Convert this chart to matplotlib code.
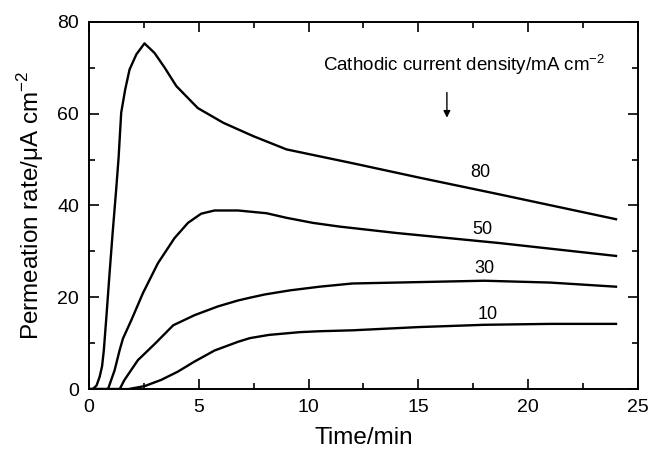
import matplotlib.pyplot as plt
from matplotlib.ticker import MultipleLocator

plt.rcParams['font.family'] = ['Liberation Sans', 'DejaVu Sans']
plt.rcParams['mathtext.fontset'] = 'custom'
plt.rcParams['mathtext.rm'] = 'Liberation Sans'

# permeation transients (time in min, rate in uA cm-2)
t_80 = [0, 0.18, 0.35, 0.49, 0.6, 0.68, 0.8, 0.94, 1.08, 1.24, 1.35, 1.47,
        1.65, 1.85, 2.16, 2.53, 2.99, 3.45, 3.98, 4.51, 4.96, 6.12, 7.48,
        9.0, 12, 15, 18.7, 24]
j_80 = [0, 0, 0.8, 2.7, 5, 8.5, 16, 25.2, 34, 43.4, 50.3, 60.2,
        65.2, 69.6, 72.9, 75.3, 73.2, 70, 66, 63.4, 61.2, 58, 55.1,
        52.2, 49.2, 46.1, 42.4, 37]

t_50 = [0, 0.87, 1.17, 1.4, 1.55, 1.93, 2.46, 3.14, 3.9, 4.51, 5.11, 5.72,
        6.79, 8.09, 9.0, 10.2, 11.4, 14, 18.7, 24]
j_50 = [0, 0, 4.1, 8.5, 11, 15, 20.9, 27.4, 32.9, 36.2, 38.2, 38.9,
        38.9, 38.3, 37.3, 36.2, 35.4, 34, 31.8, 29]

t_30 = [0, 1.4, 1.62, 2.23, 2.99, 3.84, 4.81, 5.87, 6.79, 7.33, 8.0, 9.15,
        10.5, 12, 15, 18, 21, 24]
j_30 = [0, 0, 2, 6.3, 9.8, 13.9, 16.1, 18, 19.3, 19.9, 20.6, 21.5,
        22.3, 23, 23.3, 23.6, 23.2, 22.3]

t_10 = [0, 1.8, 2.54, 3.29, 4.05, 4.81, 5.72, 6.79, 7.33, 8.2, 9.6, 10.5,
        12, 15, 18, 21, 24]
j_10 = [0, 0, 0.65, 2, 3.8, 6, 8.4, 10.3, 11.1, 11.8, 12.4, 12.6,
        12.8, 13.5, 14, 14.2, 14.2]

curves = [(t_80, j_80, '80', 17.8, 47.1),
          (t_50, j_50, '50', 17.9, 34.7),
          (t_30, j_30, '30', 18.0, 26.3),
          (t_10, j_10, '10', 18.15, 16.2)]

fig = plt.figure(figsize=(6.49, 4.54), dpi=100)
ax = fig.add_axes([0.137, 0.143, 0.846, 0.809])

for t, j, lab, lx, ly in curves:
    ax.plot(t, j, color='black', lw=1.7, solid_joinstyle='round')
    ax.text(lx, ly, lab, ha='center', va='center', fontsize=13)

ax.text(17.1, 70.7, 'Cathodic current density/mA cm$^{\\mathregular{-2}}$',
        ha='center', va='center', fontsize=13.5)
ax.annotate('', xy=(16.3, 58.5), xytext=(16.3, 65.2),
            arrowprops=dict(arrowstyle='-|>', color='black', lw=1,
                            mutation_scale=10))

ax.set_xlim(0, 25)
ax.set_ylim(0, 80)
ax.xaxis.set_major_locator(MultipleLocator(5))
ax.xaxis.set_minor_locator(MultipleLocator(2.5))
ax.yaxis.set_major_locator(MultipleLocator(20))
ax.yaxis.set_minor_locator(MultipleLocator(10))
ax.tick_params(which='both', direction='in', top=True, right=True,
               width=1.2, labelsize=14, pad=7)
ax.tick_params(which='major', length=7)
ax.tick_params(which='minor', length=4)
for s in ax.spines.values():
    s.set_linewidth(1.4)

ax.set_xlabel('Time/min', fontsize=17.5, labelpad=8)
ax.set_ylabel('Permeation rate/\u03bcA cm$^{\\mathregular{-2}}$', fontsize=17.5,
              labelpad=8)

fig.savefig('out.png', dpi=100)
